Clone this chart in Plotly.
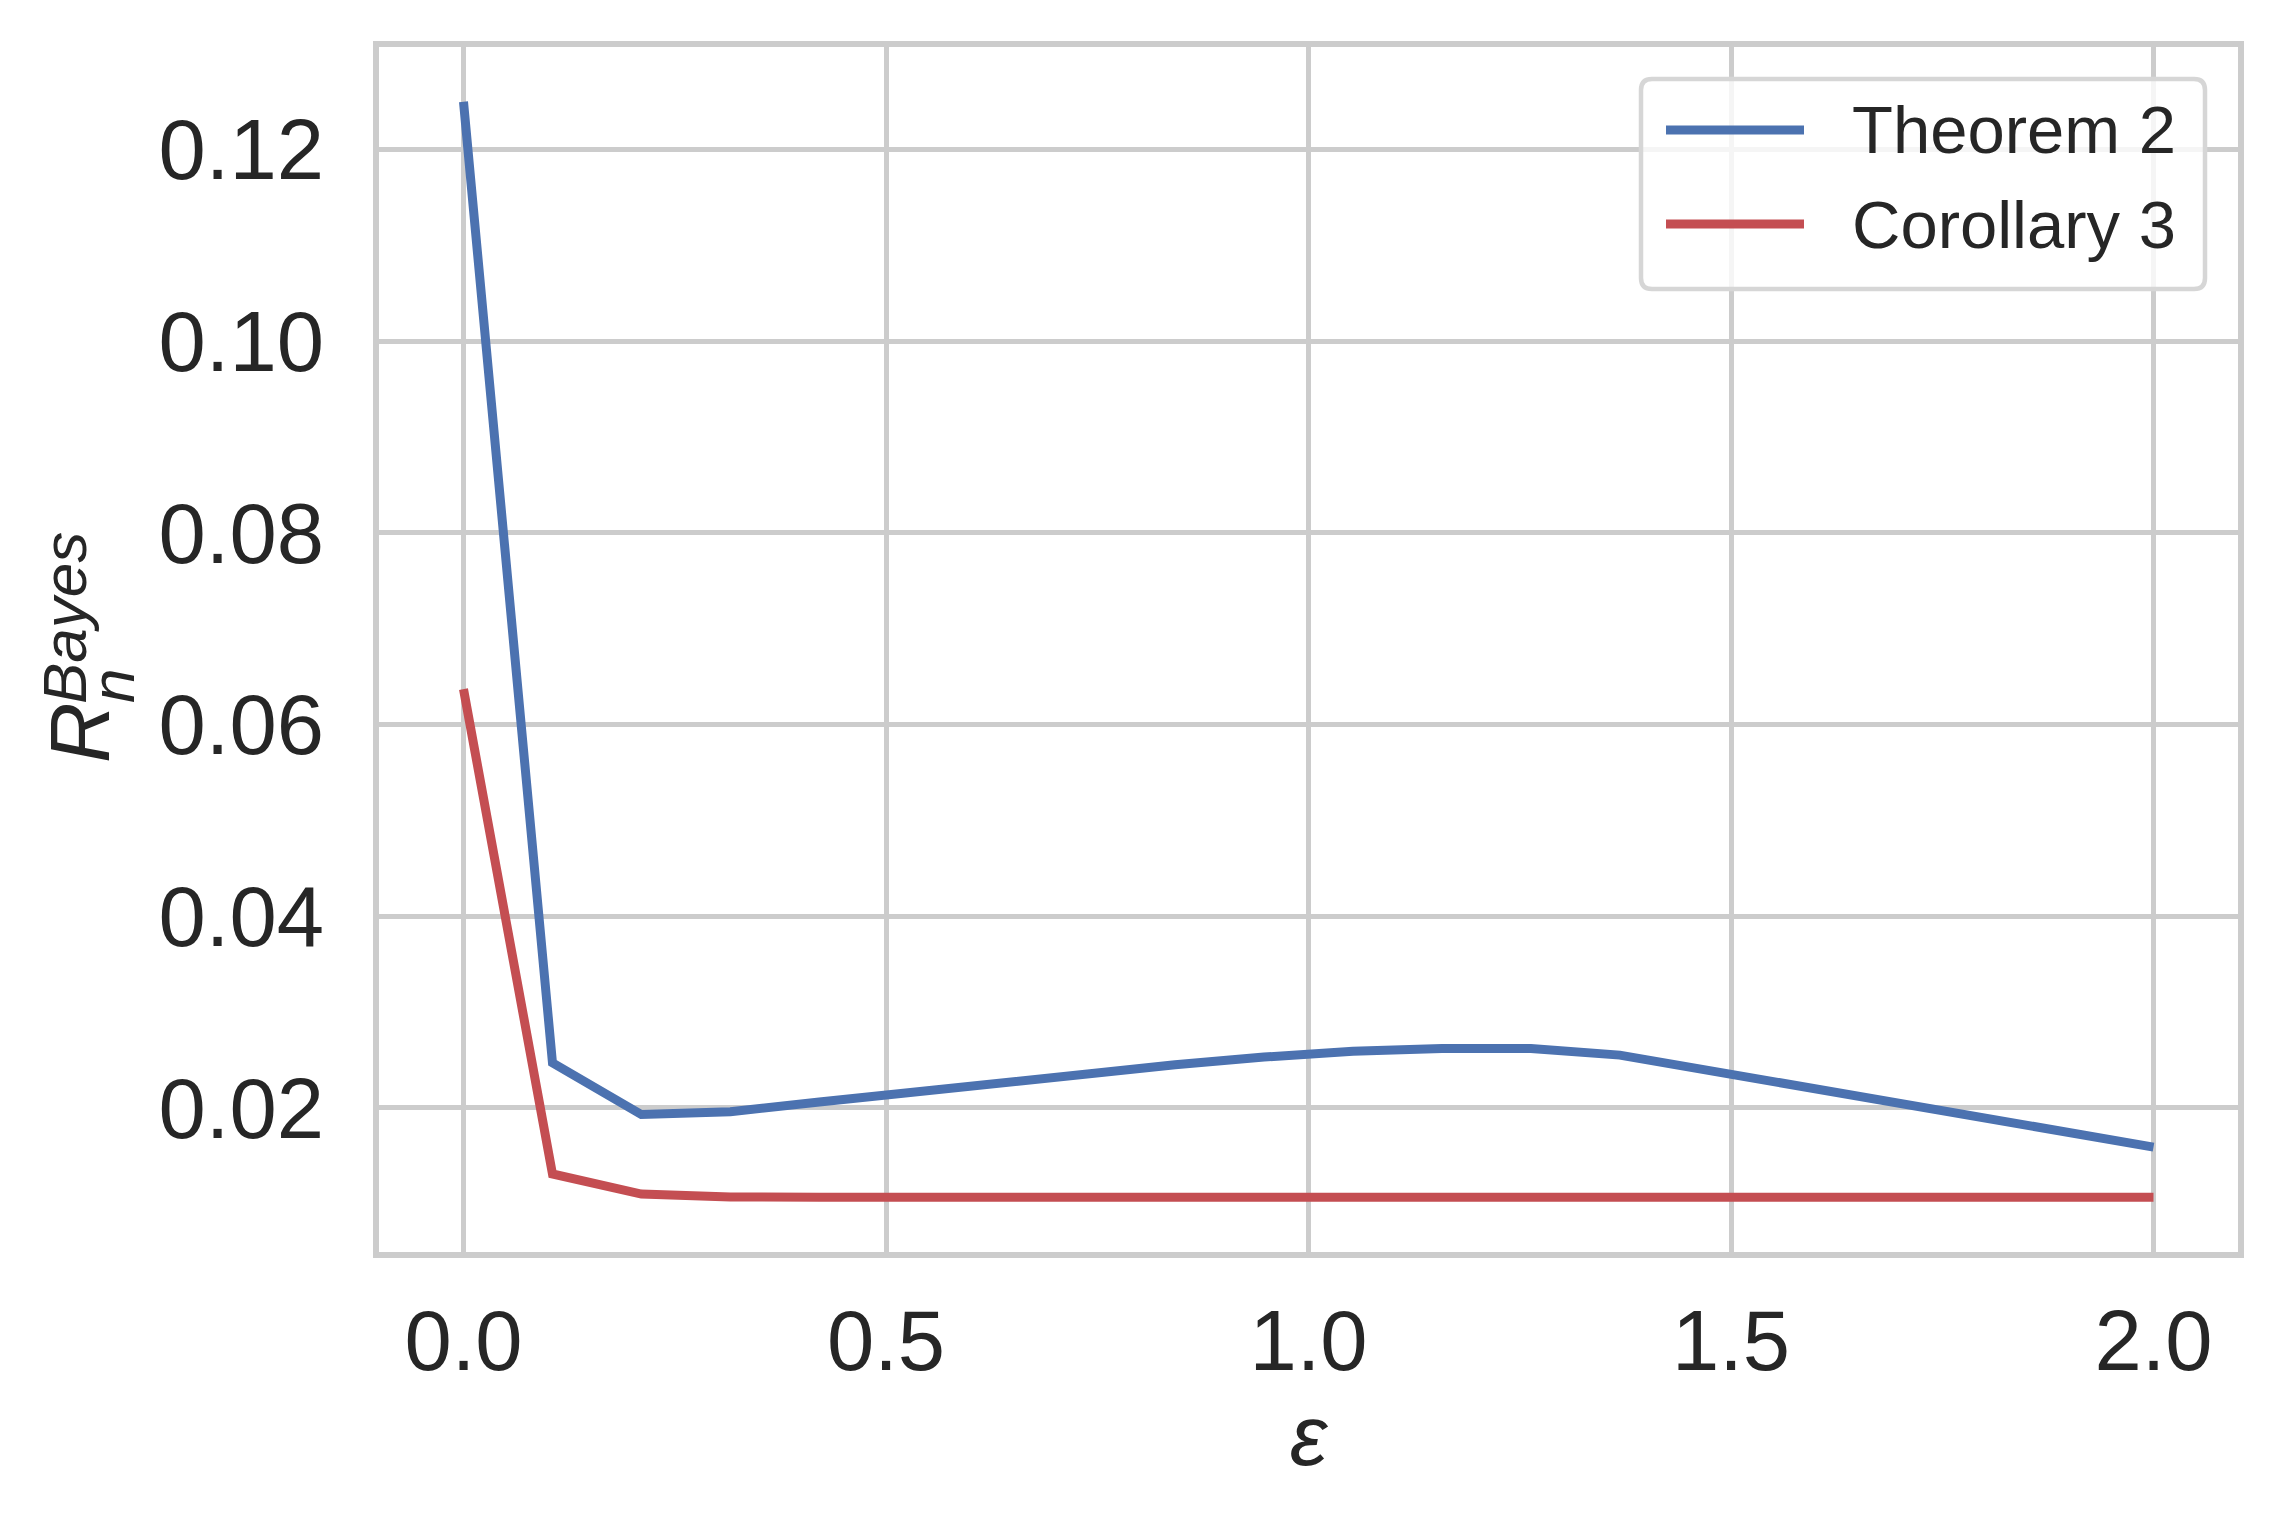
import plotly.graph_objects as go

# ---- data ----
eps = [0.0, 0.1053, 0.2105, 0.3158, 0.4211, 0.5263, 0.6316, 0.7368, 0.8421, 0.9474,
       1.0526, 1.1579, 1.2632, 1.3684, 1.4737, 1.5789, 1.6842, 1.7895, 1.8947, 2.0]
theorem2 = [0.1250, 0.0247, 0.0193, 0.0196, 0.0206, 0.0216, 0.0226, 0.0236, 0.0245, 0.0253,
            0.0259, 0.0262, 0.0262, 0.0255, 0.0239, 0.0223, 0.0207, 0.0191, 0.0175, 0.0159]
corollary3 = [0.0637, 0.0131, 0.0110, 0.0107, 0.01068, 0.01067, 0.01067, 0.01067, 0.01067, 0.01067,
              0.01067, 0.01067, 0.01067, 0.01067, 0.01067, 0.01067, 0.01067, 0.01067, 0.01067, 0.01067]
series_names = ["Theorem 2", "Corollary 3"]
series_colors = ["#4c72b0", "#c44e52"]
xticks = [0.0, 0.5, 1.0, 1.5, 2.0]
yticks = [0.02, 0.04, 0.06, 0.08, 0.10, 0.12]

W, H = 2283, 1522
OFF = 8  # page body margin
L, R, T, B = 371, 53, 39, 278
PW, PH = W - L - R, H - T - B


def px(x):
    return (x - OFF - L) / PW


def py(y):
    return (H - B - (y - OFF)) / PH


FONT = "Liberation Sans, Arial, sans-serif"
TXT = "#262626"
GRID = "#cccccc"

fig = go.Figure()
for name, ys, col in zip(series_names, [theorem2, corollary3], series_colors):
    fig.add_trace(go.Scatter(x=eps, y=ys, mode="lines", name=name,
                             line=dict(color=col, width=9), showlegend=False))

xmin, xmax = min(eps), max(eps)
xpad = 0.05 * (xmax - xmin)
allv = theorem2 + corollary3
ymin, ymax = min(allv), max(allv)
ypad = 0.05 * (ymax - ymin)

fig.update_layout(
    width=W, height=H,
    margin=dict(l=L, r=R, t=T, b=B),
    paper_bgcolor="white", plot_bgcolor="white",
    font=dict(family=FONT, color=TXT),
    xaxis=dict(range=[xmin - xpad, xmax + xpad], tickvals=xticks,
               ticktext=[f"{v:.1f}" for v in xticks],
               showgrid=True, gridcolor=GRID, gridwidth=4.5,
               showline=True, mirror=True, linecolor=GRID, linewidth=6,
               zeroline=False, ticks="", tickfont=dict(size=85, color=TXT),
               ticklabelstandoff=10,
               title=dict(text="<i>ε</i>", font=dict(size=85, color=TXT), standoff=0)),
    yaxis=dict(range=[ymin - ypad, ymax + ypad], tickvals=yticks,
               ticktext=[f"{v:.2f}" for v in yticks],
               showgrid=True, gridcolor=GRID, gridwidth=4.5,
               showline=True, mirror=True, linecolor=GRID, linewidth=6,
               zeroline=False, ticks="", tickfont=dict(size=85, color=TXT),
               ticklabelstandoff=32),
)

# y-axis label R_n^Bayes built from rotated pieces
fig.add_annotation(xref="paper", yref="paper", x=px(80), y=py(733), text="<i>R</i>",
                   textangle=-90, showarrow=False, xanchor="center", yanchor="middle",
                   font=dict(size=84, color=TXT, family=FONT))
fig.add_annotation(xref="paper", yref="paper", x=px(64), y=py(618), text="<i>Bayes</i>",
                   textangle=-90, showarrow=False, xanchor="center", yanchor="middle",
                   font=dict(size=62, color=TXT, family=FONT))
fig.add_annotation(xref="paper", yref="paper", x=px(112), y=py(686), text="<i>n</i>",
                   textangle=-90, showarrow=False, xanchor="center", yanchor="middle",
                   font=dict(size=62, color=TXT, family=FONT))

# legend (custom, matplotlib style)
bx0, bx1, by0, by1, rr = 1641, 2205, 79, 289, 11
path = (f"M {px(bx0+rr)},{py(by0)} L {px(bx1-rr)},{py(by0)} Q {px(bx1)},{py(by0)} {px(bx1)},{py(by0+rr)} "
        f"L {px(bx1)},{py(by1-rr)} Q {px(bx1)},{py(by1)} {px(bx1-rr)},{py(by1)} "
        f"L {px(bx0+rr)},{py(by1)} Q {px(bx0)},{py(by1)} {px(bx0)},{py(by1-rr)} "
        f"L {px(bx0)},{py(by0+rr)} Q {px(bx0)},{py(by0)} {px(bx0+rr)},{py(by0)} Z")
fig.add_shape(type="path", path=path, xref="paper", yref="paper",
              fillcolor="rgba(255,255,255,0.8)", line=dict(color="#d6d6d6", width=4.5))
for i, (name, col) in enumerate(zip(series_names, series_colors)):
    yy = 130 + i * 94
    fig.add_shape(type="line", xref="paper", yref="paper",
                  x0=px(1666), x1=px(1804), y0=py(yy), y1=py(yy),
                  line=dict(color=col, width=9))
    fig.add_annotation(xref="paper", yref="paper", x=px(1850), y=py(yy), text=name,
                       showarrow=False, xanchor="left", yanchor="middle",
                       font=dict(size=67, color=TXT, family=FONT))

fig.write_html("out.html")
